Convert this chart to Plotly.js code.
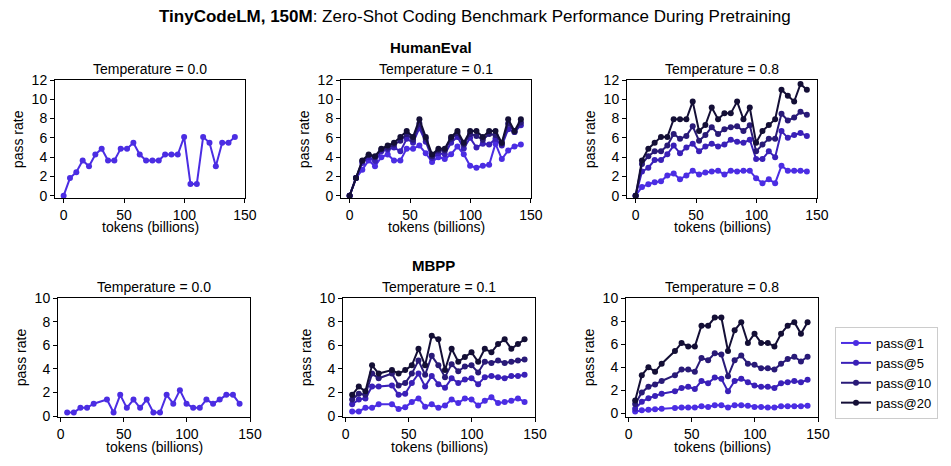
<!DOCTYPE html>
<html>
<head>
<meta charset="utf-8">
<script src="https://cdn.plot.ly/plotly-3.0.1.min.js"></script>
<style>
  html, body { margin: 0; padding: 0; background: #ffffff; }
  #chart { width: 951px; height: 466px; }
</style>
</head>
<body>
<div id="chart"></div>
<script>
// ---------------- DATA ----------------
const seriesNames = ["pass@1", "pass@5", "pass@10", "pass@20"];

// tokens (billions) at each checkpoint
const humanEvalTokens = [0, 5.25, 10.5, 15.75, 21, 26.25, 31.5, 36.75, 42, 47.25, 52.5, 57.75, 63, 68.25, 73.5, 78.75, 84, 89.25, 94.5, 99.75, 105, 110.25, 115.5, 120.75, 126, 131.25, 136.5, 141.75];
const mbppTokens = [5.25, 10.5, 15.75, 21, 26.25, 36.75, 42, 47.25, 52.5, 57.75, 63, 68.25, 73.5, 78.75, 84, 89.25, 94.5, 99.75, 105, 110.25, 115.5, 120.75, 126, 131.25, 136.5, 141.75];

// HumanEval, temperature 0.0
const heT00_pass1 = [0, 1.83, 2.44, 3.66, 3.05, 4.27, 4.88, 3.66, 3.66, 4.88, 4.88, 5.49, 4.27, 3.66, 3.66, 3.66, 4.27, 4.27, 4.27, 6.10, 1.22, 1.22, 6.10, 5.49, 3.05, 5.49, 5.49, 6.10];

// HumanEval, temperature 0.1
const heT01_pass1  = [0, 1.83, 2.7, 3.66, 3.05, 4.0, 4.27, 3.66, 3.66, 4.88, 4.88, 5.2, 4.4, 3.5, 4.0, 3.8, 4.3, 5.1, 4.3, 3.1, 2.9, 3.1, 3.2, 5.4, 3.8, 4.7, 5.1, 5.3];
const heT01_pass5  = [0, 1.83, 3.4, 4.0, 3.6, 4.6, 4.8, 5.0, 4.6, 5.9, 5.5, 7.0, 5.6, 3.9, 4.4, 4.3, 5.5, 6.1, 4.9, 6.0, 5.0, 5.4, 5.3, 5.9, 5.2, 6.9, 6.6, 7.3];
const heT01_pass10 = [0, 1.83, 3.6, 4.2, 4.0, 4.8, 5.0, 5.3, 5.7, 6.4, 5.8, 7.5, 5.9, 4.1, 4.7, 4.7, 5.9, 6.5, 5.3, 6.4, 6.2, 5.8, 6.4, 6.3, 5.4, 7.5, 6.6, 7.6];
const heT01_pass20 = [0, 1.83, 3.66, 4.27, 4.1, 4.88, 5.2, 5.49, 6.1, 6.71, 6.1, 7.93, 6.1, 4.27, 4.88, 4.88, 6.1, 6.71, 5.49, 6.71, 6.71, 6.1, 6.71, 6.71, 5.49, 7.93, 6.71, 7.93];

// HumanEval, temperature 0.8
const heT08_pass1  = [0, 0.9, 1.2, 1.4, 1.5, 2.1, 2.3, 1.7, 2.1, 2.6, 2.2, 2.4, 2.5, 2.6, 2.2, 2.6, 2.5, 2.6, 2.6, 1.8, 1.3, 1.7, 1.3, 3.1, 2.6, 2.6, 2.6, 2.5];
const heT08_pass5  = [0, 2.5, 2.9, 3.7, 3.7, 4.3, 5.2, 4.4, 5.0, 5.4, 4.6, 5.1, 5.4, 5.1, 5.3, 5.8, 5.6, 5.5, 5.8, 3.8, 3.8, 4.6, 4.0, 6.7, 6.0, 6.3, 6.5, 6.2];
const heT08_pass10 = [0, 3.3, 4.1, 4.6, 4.6, 5.2, 6.4, 5.9, 6.2, 7.2, 5.7, 6.3, 7.1, 6.4, 6.9, 7.1, 7.2, 6.7, 7.3, 4.6, 5.3, 5.9, 5.9, 8.5, 7.8, 8.1, 8.7, 8.4];
const heT08_pass20 = [0, 3.66, 4.88, 5.49, 6.1, 6.1, 7.93, 7.93, 7.93, 9.76, 6.71, 7.32, 9.15, 7.93, 8.54, 8.54, 9.76, 7.93, 9.15, 5.49, 6.71, 7.32, 7.93, 10.98, 10.37, 9.76, 11.59, 10.98];

// MBPP, temperature 0.0
const mbT00_pass1 = [0.3, 0.3, 0.7, 0.7, 1.05, 1.4, 0.3, 1.8, 0.7, 1.4, 0.7, 1.4, 0.3, 0.3, 1.8, 1.05, 2.2, 1.05, 0.7, 0.7, 1.4, 1.05, 1.4, 1.8, 1.8, 1.05];

// MBPP, temperature 0.1
const mbT01_pass1  = [0.4, 0.4, 0.7, 0.7, 1.0, 1.0, 0.6, 0.75, 1.2, 1.5, 0.8, 1.0, 0.7, 0.9, 1.4, 1.1, 1.5, 1.4, 0.9, 1.3, 1.6, 1.1, 1.2, 1.3, 1.5, 1.2];
const mbT01_pass5  = [1.0, 1.4, 1.5, 2.5, 2.5, 2.6, 1.8, 1.9, 2.8, 3.6, 2.5, 3.4, 2.7, 2.4, 3.2, 2.8, 3.1, 3.2, 2.7, 3.3, 3.4, 3.3, 3.2, 3.4, 3.4, 3.5];
const mbT01_pass10 = [1.4, 1.9, 1.8, 3.6, 3.2, 3.6, 2.6, 2.8, 3.6, 4.7, 3.5, 5.1, 4.3, 3.3, 4.4, 3.8, 4.2, 4.3, 3.7, 4.6, 4.5, 4.7, 4.5, 4.6, 4.7, 4.8];
const mbT01_pass20 = [1.8, 2.5, 2.1, 4.3, 3.6, 3.9, 3.6, 3.9, 4.3, 5.7, 4.3, 6.8, 6.5, 3.9, 5.7, 4.6, 5.0, 5.4, 4.6, 5.7, 5.4, 6.1, 6.5, 5.7, 6.1, 6.5];

// MBPP, temperature 0.8
const mbT08_pass1  = [0.15, 0.25, 0.3, 0.35, 0.4, 0.45, 0.5, 0.5, 0.5, 0.6, 0.55, 0.7, 0.7, 0.5, 0.7, 0.7, 0.65, 0.55, 0.55, 0.5, 0.5, 0.6, 0.6, 0.6, 0.6, 0.65];
const mbT08_pass5  = [0.4, 1.0, 1.3, 1.5, 1.7, 1.9, 2.2, 2.3, 2.1, 2.8, 2.6, 3.1, 3.0, 1.9, 2.8, 3.0, 2.7, 2.4, 2.3, 2.3, 2.2, 2.6, 2.7, 2.8, 2.7, 2.9];
const mbT08_pass10 = [0.8, 1.8, 2.3, 2.5, 2.8, 3.3, 3.8, 3.8, 3.6, 4.8, 4.6, 5.2, 5.1, 3.2, 4.6, 5.0, 4.3, 4.2, 3.9, 3.9, 3.8, 4.3, 4.7, 4.9, 4.5, 4.9];
const mbT08_pass20 = [1.1, 3.3, 4.0, 3.6, 4.3, 5.4, 6.1, 5.8, 5.8, 7.6, 7.6, 8.3, 8.3, 5.4, 7.2, 7.9, 6.1, 6.9, 6.1, 6.1, 5.8, 6.9, 7.6, 7.9, 6.9, 7.9];

const subplotTitles = ["Temperature = 0.0", "Temperature = 0.1", "Temperature = 0.8",
                       "Temperature = 0.0", "Temperature = 0.1", "Temperature = 0.8"];
const rowTitles = ["HumanEval", "MBPP"];
const xTickVals = [0, 50, 100, 150];
const yTickValsHE = [0, 2, 4, 6, 8, 10, 12];
const yTickValsMB = [0, 2, 4, 6, 8, 10];

// ---------------- STYLE / LAYOUT ----------------
const W = 951, H = 466;
const FONT = "'Liberation Sans', Arial, Helvetica, sans-serif";
const colors = ["#4b2de3", "#3a20b8", "#291a78", "#140f36"];

// subplot boxes in pixels [left, right, top, bottom]
const boxes = [
  [55, 245, 80, 198.3], [341, 531, 80, 198.3], [627, 817, 80, 198.3],
  [58, 250, 298, 416.7], [343, 535, 298, 416.7], [626, 818, 298, 416.7]
];
const xTitleOffset = [28.5, 28.5, 28.5, 30, 30, 30];
const xRanges = [[-7.15, 150.15], [-7.15, 150.15], [-7.15, 150.15], [-2, 150], [-2, 150], [-2, 150]];
const yRanges = [[-0.27, 12], [-0.27, 12], [-0.27, 12], [-0.05, 10], [-0.05, 10], [-0.3, 10]];

const panels = [
  {x: humanEvalTokens, ys: [heT00_pass1]},
  {x: humanEvalTokens, ys: [heT01_pass1, heT01_pass5, heT01_pass10, heT01_pass20]},
  {x: humanEvalTokens, ys: [heT08_pass1, heT08_pass5, heT08_pass10, heT08_pass20]},
  {x: mbppTokens, ys: [mbT00_pass1]},
  {x: mbppTokens, ys: [mbT01_pass1, mbT01_pass5, mbT01_pass10, mbT01_pass20]},
  {x: mbppTokens, ys: [mbT08_pass1, mbT08_pass5, mbT08_pass10, mbT08_pass20]}
];

const px = v => v / W;
const py = v => 1 - v / H;

const traces = [];
panels.forEach((p, i) => {
  const ax = i === 0 ? "" : String(i + 1);
  p.ys.forEach((y, s) => {
    traces.push({
      type: "scatter", mode: "lines+markers",
      x: p.x, y: y,
      xaxis: "x" + ax, yaxis: "y" + ax,
      name: seriesNames[s],
      legendgroup: seriesNames[s],
      showlegend: i === 5,
      line: {color: colors[s], width: 2},
      marker: {color: colors[s], size: 6}
    });
  });
});

const layout = {
  width: W, height: H,
  margin: {l: 0, r: 0, t: 0, b: 0},
  paper_bgcolor: "#ffffff", plot_bgcolor: "#ffffff",
  font: {family: FONT, size: 14, color: "#000000"},
  showlegend: true,
  legend: {
    x: px(835), y: py(327), xanchor: "left", yanchor: "top",
    bordercolor: "#cccccc", borderwidth: 1, bgcolor: "#ffffff",
    font: {family: FONT, size: 13, color: "#000000"},
    tracegroupgap: 0
  },
  annotations: [],
};

boxes.forEach((b, i) => {
  const ax = i === 0 ? "" : String(i + 1);
  const axCommon = {
    showline: true, mirror: true, linecolor: "#000000", linewidth: 1,
    ticks: "outside", ticklen: 4, tickwidth: 1, tickcolor: "#000000",
    showgrid: false, zeroline: false, fixedrange: true,
    tickfont: {family: FONT, size: 14, color: "#000000"}
  };
  layout["xaxis" + ax] = Object.assign({}, axCommon, {
    domain: [px(b[0]), px(b[1])], range: xRanges[i],
    anchor: "y" + ax, tickmode: "array", tickvals: xTickVals,
    ticktext: xTickVals.map(String)
  });
  const yt = i < 3 ? yTickValsHE : yTickValsMB;
  layout["yaxis" + ax] = Object.assign({}, axCommon, {
    domain: [py(b[3]), py(b[2])], range: yRanges[i],
    anchor: "x" + ax, tickmode: "array", tickvals: yt,
    ticktext: yt.map(String)
  });
  const cx = (b[0] + b[1]) / 2;
  // subplot title
  layout.annotations.push({
    text: subplotTitles[i], xref: "paper", yref: "paper",
    x: px(cx), y: py(b[2] - 1), xanchor: "center", yanchor: "bottom",
    showarrow: false, font: {family: FONT, size: 14, color: "#000"}
  });
  // x axis title
  layout.annotations.push({
    text: "tokens (billions)", xref: "paper", yref: "paper",
    x: px(cx), y: py(b[3] + xTitleOffset[i]), xanchor: "center", yanchor: "middle",
    showarrow: false, font: {family: FONT, size: 14, color: "#000"}
  });
  // y axis title
  layout.annotations.push({
    text: "pass rate", xref: "paper", yref: "paper", textangle: -90,
    x: px(b[0] - 47), y: py((b[2] + b[3]) / 2), xanchor: "left", yanchor: "middle",
    showarrow: false, font: {family: FONT, size: 14, color: "#000"}
  });
});

// row titles
layout.annotations.push({
  text: "<b>" + rowTitles[0] + "</b>", xref: "paper", yref: "paper",
  x: px(431), y: py(47), xanchor: "center", yanchor: "middle",
  showarrow: false, font: {family: FONT, size: 15, color: "#000"}
});
layout.annotations.push({
  text: "<b>" + rowTitles[1] + "</b>", xref: "paper", yref: "paper",
  x: px(433), y: py(265), xanchor: "center", yanchor: "middle",
  showarrow: false, font: {family: FONT, size: 15, color: "#000"}
});
// main title
layout.annotations.push({
  text: "<b>TinyCodeLM, 150M</b>: Zero-Shot Coding Benchmark Performance During Pretraining",
  xref: "paper", yref: "paper",
  x: px(475), y: py(16), xanchor: "center", yanchor: "middle",
  showarrow: false, font: {family: FONT, size: 17, color: "#000"}
});

Plotly.newPlot("chart", traces, layout, {displayModeBar: false, staticPlot: true});
</script>
</body>
</html>
